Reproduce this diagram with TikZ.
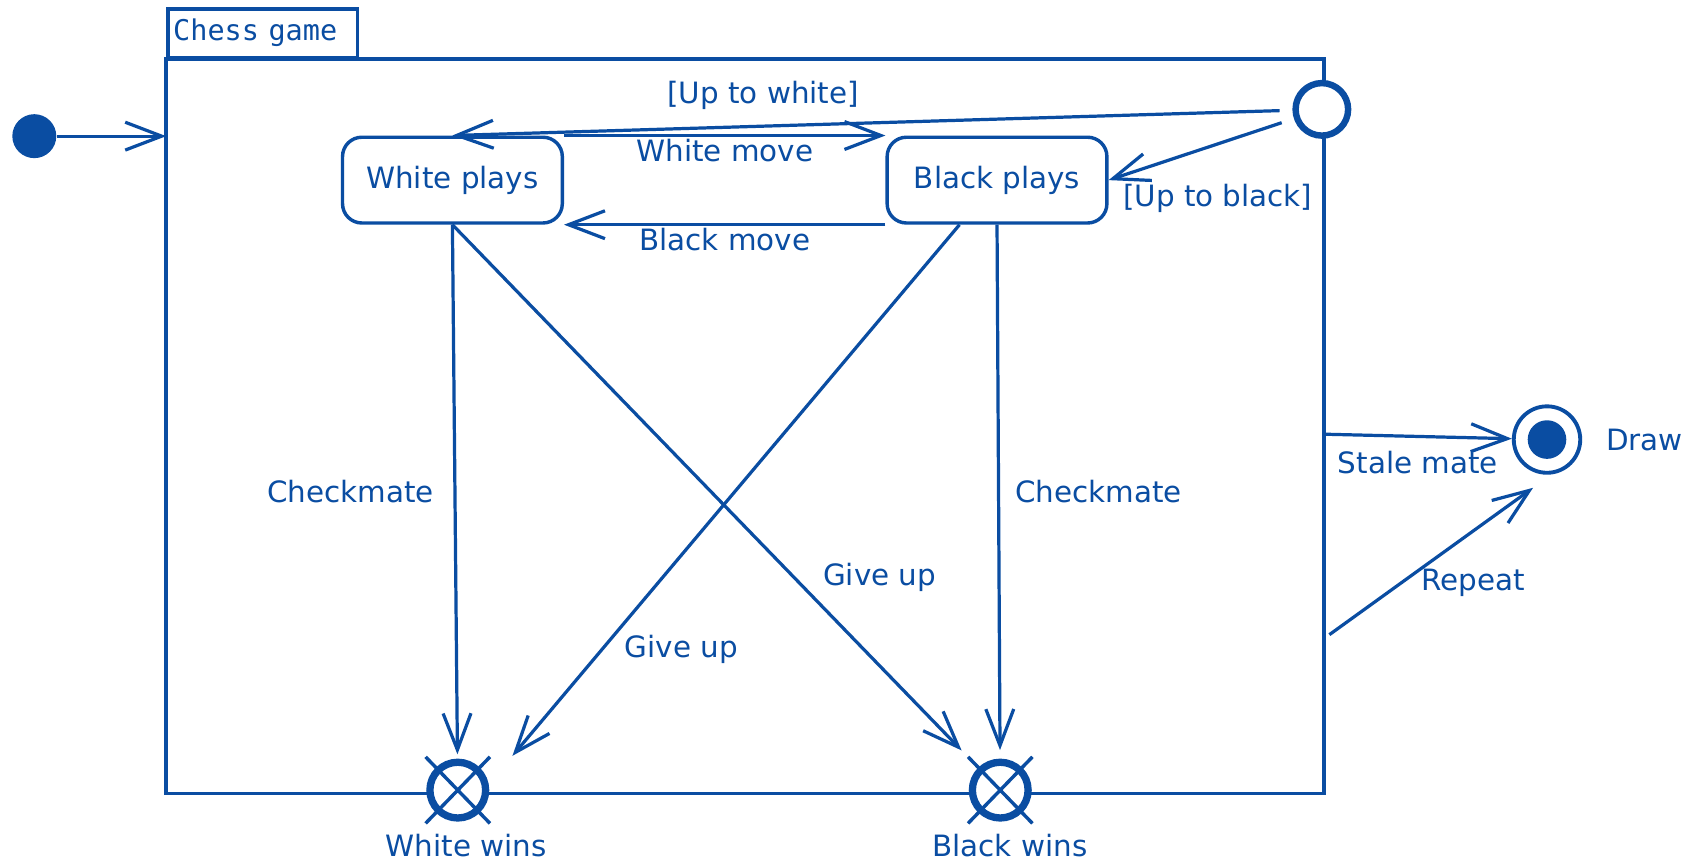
\documentclass[tikz,border=0pt]{standalone}
\usepackage{fontspec}
\setmainfont{DejaVu Sans}
\setmonofont{DejaVu Sans Mono}
\usepackage{tikz}
\usetikzlibrary{arrows.meta,positioning}
\definecolor{uml}{HTML}{0A4DA2}
\tikzset{
  line/.style={draw=uml, line width=1.5pt},
  edge/.style={line, -{Straight Barb[length=17pt,width=13pt,line width=1.5pt]}},
  frame/.style={line, line width=1.6pt},
  tab/.style={frame, anchor=south west, text=uml, font=\fontsize{13.3}{15}\ttfamily, text width=83.5pt, inner xsep=2.5pt, minimum height=22.5pt, align=left},
  statebox/.style={draw=uml, line width=1.6pt, rounded corners=9pt, minimum width=102.5pt, minimum height=40pt, text=uml, font=\fontsize{13.7}{16}\selectfont, fill=white},
  lab/.style={text=uml, font=\fontsize{13.7}{16}\selectfont, inner sep=1pt},
  initdot/.style={circle, fill=uml, minimum size=20.5pt, inner sep=0pt},
  entrypt/.style={circle, draw=uml, line width=3pt, fill=white, minimum size=24.5pt, inner sep=0pt},
  exitpt/.style={circle, draw=uml, line width=3.4pt, fill=white, minimum size=26pt, inner sep=0pt},
  xline/.style={draw=uml, line width=1.6pt},
  finalpt/.style={circle, draw=uml, line width=1.8pt, fill=white, minimum size=31pt, inner sep=0pt,
    path picture={\fill[uml] (path picture bounding box.center) circle (9pt);}}
}
\begin{document}
\begin{tikzpicture}[x=0.5pt, y=-0.5pt]
  \path[use as bounding box, fill=white] (0,0) rectangle (1568,809);
  % frame and its tab
  \draw[frame] (155,55) rectangle (1235,740);
  \node[tab] (tab) at (155,55) {Chess game};
  % states
  \node[initdot] (init) at (32,127) {};
  \node[statebox] (wp) at (422,168) {White plays};
  \node[statebox] (bp) at (930,168) {Black plays};
  \node[entrypt] (choice) at (1233,102) {};
  \node[exitpt] (wwin) at (427,737) {};
  \node[exitpt] (bwin) at (933,737) {};
  \foreach \n in {wwin,bwin}
    \draw[xline] (\n.center) ++(-30,-31) -- ++(60,62) (\n.center) ++(30,-31) -- ++(-60,62);
  \node[lab, below=4.5pt of wwin, xshift=4pt] (wwinlab) {White wins};
  \node[lab, below=4.5pt of bwin, xshift=4.5pt] (bwinlab) {Black wins};
  \node[finalpt] (final) at (1443,410) {};
  \node[lab, right=10pt of final] (drawlab) {Draw};
  % free ends
  \coordinate (fin) at (155,127);
  \coordinate (bgive) at (897,700);
  \coordinate (wgive) at (478,705);
  \coordinate (fstale) at (1235,405);
  \coordinate (frep) at (1240,592);
  \coordinate (drep) at (1430,455);
  % transitions
  \draw[edge] (init) -- (fin);
  \draw[edge] (wp.north east) -- node[lab, below] {White move} (bp.north west);
  \draw[edge] (bp.south west) -- node[lab, below] {Black move} (wp.south east);
  \draw[edge, shorten <=6pt] (choice) -- node[lab, pos=0.63, above=6pt] {[Up to white]} (wp.north);
  \draw[edge, shorten <=6pt] (choice) -- node[lab, pos=1, anchor=north west, xshift=5pt] {[Up to black]} (bp.east);
  \draw[edge, shorten >=2pt] (wp.south) -- node[lab, left=8pt] {Checkmate} (wwin);
  \draw[edge] (wp.south) -- node[lab, pos=0.67, right=12pt] {Give up} (bgive);
  \draw[edge] ([xshift=-17.5pt]bp.south) -- node[lab, pos=0.8, right=9pt] {Give up} (wgive);
  \draw[edge, shorten >=4pt] (bp.south) -- node[lab, right=6pt] {Checkmate} (bwin);
  \draw[edge] (fstale) -- node[lab, below=5pt] {Stale mate} (final);
  \draw[edge] (frep) -- node[lab, pos=0.35, right=8pt] {Repeat} (drep);
\end{tikzpicture}
\end{document}
